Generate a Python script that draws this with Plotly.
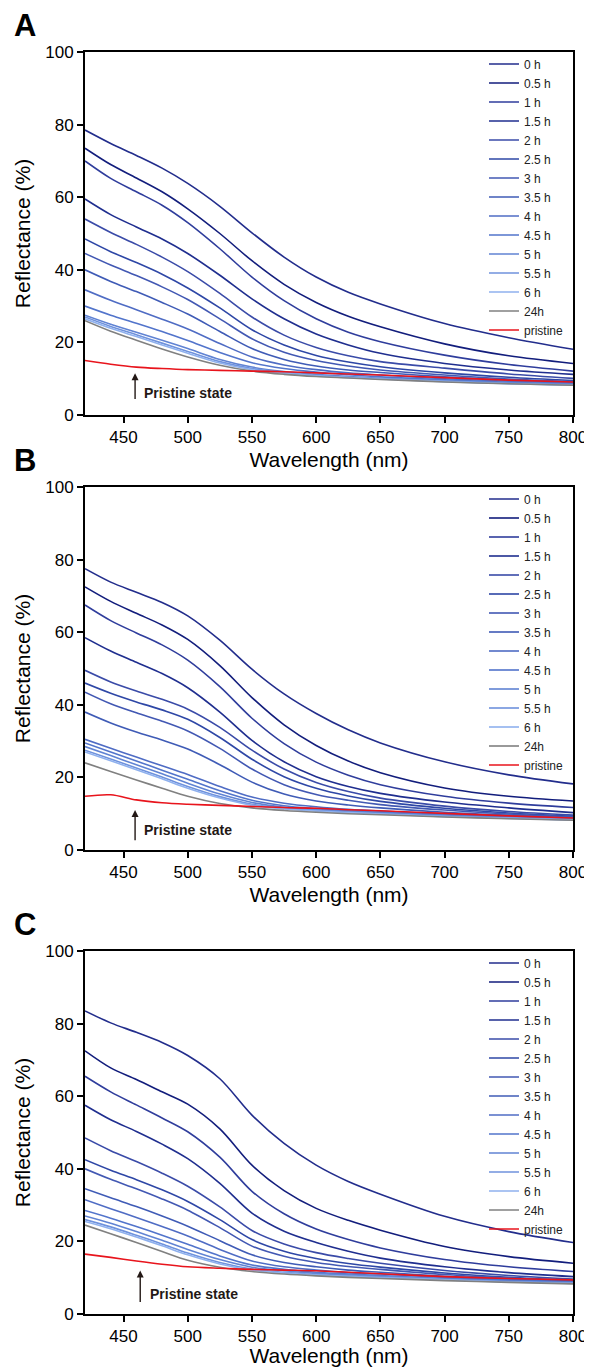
import plotly.graph_objects as go

# ---------------- data ----------------
WAVELENGTH = [420, 440, 460, 480, 500, 525, 550, 575, 600, 625, 650, 700, 750, 800]
LABELS = ["0 h", "0.5 h", "1 h", "1.5 h", "2 h", "2.5 h", "3 h", "3.5 h",
          "4 h", "4.5 h", "5 h", "5.5 h", "6 h", "24h", "pristine"]
COLORS = ["#222d8c", "#121d7c", "#2f3d9c", "#1f2e8f", "#3a4ba8", "#2e47a6",
          "#4258b3", "#3f5bb6", "#4f6cc4", "#5274cb", "#6083d3", "#6f92dd",
          "#8fb1ee", "#808080", "#e8141c"]

PANEL_A = [
    [78.5, 74.8, 71.5, 68.0, 63.8, 57.5, 50.2, 43.5, 38.0, 33.8, 30.6, 25.2, 21.3, 18.1],
    [73.5, 69.0, 65.3, 61.5, 56.8, 50.0, 42.5, 36.0, 31.0, 27.2, 24.3, 19.6, 16.3, 14.2],
    [70.0, 65.2, 61.5, 57.8, 53.0, 45.8, 38.0, 31.5, 26.5, 22.8, 20.2, 16.5, 13.9, 12.1],
    [59.5, 55.2, 51.8, 48.5, 44.5, 38.5, 32.0, 26.5, 22.3, 19.3, 17.0, 14.2, 12.4, 11.2],
    [54.0, 50.3, 47.0, 43.5, 39.5, 33.5, 27.0, 22.0, 18.6, 16.3, 14.7, 12.9, 11.3, 10.1],
    [48.5, 45.0, 42.0, 38.8, 35.0, 29.5, 23.5, 19.3, 16.4, 14.6, 13.3, 11.6, 10.4, 9.5],
    [44.5, 41.3, 38.4, 35.3, 31.8, 26.5, 21.0, 17.3, 15.0, 13.5, 12.4, 11.0, 9.9, 9.2],
    [40.0, 36.8, 34.0, 31.0, 27.8, 23.0, 18.3, 15.3, 13.5, 12.4, 11.7, 10.5, 9.6, 9.0],
    [34.5, 31.6, 29.0, 26.4, 23.7, 19.7, 16.0, 13.8, 12.5, 11.6, 11.0, 10.0, 9.3, 8.8],
    [30.0, 27.5, 25.3, 23.0, 20.5, 17.2, 14.4, 12.8, 11.8, 11.1, 10.5, 9.7, 9.0, 8.6],
    [27.5, 25.0, 22.8, 20.6, 18.3, 15.3, 13.2, 12.0, 11.2, 10.6, 10.1, 9.4, 8.8, 8.4],
    [27.0, 24.4, 22.1, 19.8, 17.5, 14.7, 12.8, 11.7, 10.9, 10.4, 10.0, 9.3, 8.7, 8.3],
    [26.5, 23.9, 21.6, 19.3, 17.0, 14.3, 12.5, 11.5, 10.8, 10.3, 9.9, 9.2, 8.6, 8.2],
    [26.0, 23.1, 20.6, 18.2, 16.0, 13.7, 12.1, 11.2, 10.6, 10.2, 9.8, 9.1, 8.6, 8.2],
    [15.0, 14.0, 13.2, 12.8, 12.5, 12.3, 12.1, 11.9, 11.6, 11.3, 11.0, 10.3, 9.6, 9.1],
]

PANEL_B = [
    [77.5, 73.8, 71.0, 68.2, 64.5, 57.8, 49.8, 43.0, 37.6, 33.1, 29.5, 24.3, 20.7, 18.2],
    [72.5, 68.5, 65.2, 62.0, 58.0, 50.8, 42.0, 34.5, 28.8, 24.5, 21.3, 17.1, 14.8, 13.5],
    [67.5, 63.2, 59.8, 56.5, 52.3, 45.0, 36.3, 29.3, 24.2, 20.6, 18.0, 14.8, 12.9, 11.7],
    [58.5, 54.8, 51.7, 48.6, 44.7, 38.0, 30.2, 24.3, 20.2, 17.5, 15.6, 13.2, 11.6, 10.3],
    [49.5, 46.3, 43.8, 41.5, 38.8, 33.8, 27.5, 22.3, 18.6, 16.1, 14.3, 12.1, 10.6, 9.6],
    [46.0, 43.2, 40.8, 38.6, 36.0, 31.0, 25.0, 20.2, 17.0, 14.9, 13.4, 11.5, 10.2, 9.3],
    [43.5, 40.3, 37.8, 35.5, 32.8, 28.0, 22.3, 18.0, 15.3, 13.7, 12.5, 11.0, 9.9, 9.1],
    [38.0, 35.0, 32.5, 30.3, 27.8, 23.5, 18.7, 15.4, 13.5, 12.4, 11.6, 10.4, 9.6, 8.9],
    [30.5, 28.0, 25.6, 23.2, 20.8, 17.5, 14.6, 12.9, 11.9, 11.2, 10.7, 9.9, 9.2, 8.7],
    [29.5, 27.0, 24.5, 22.0, 19.5, 16.3, 13.7, 12.2, 11.4, 10.8, 10.4, 9.6, 9.0, 8.5],
    [28.5, 26.0, 23.5, 21.0, 18.4, 15.4, 13.1, 11.8, 11.1, 10.6, 10.2, 9.4, 8.9, 8.4],
    [27.5, 25.1, 22.6, 20.1, 17.5, 14.7, 12.6, 11.5, 10.9, 10.4, 10.0, 9.3, 8.8, 8.3],
    [27.0, 24.6, 22.1, 19.6, 17.0, 14.3, 12.3, 11.3, 10.7, 10.3, 9.9, 9.2, 8.7, 8.3],
    [24.0, 21.6, 19.3, 17.0, 14.8, 12.8, 11.6, 10.9, 10.4, 10.0, 9.7, 9.1, 8.6, 8.2],
    [14.8, 15.2, 13.8, 13.0, 12.6, 12.3, 12.0, 11.7, 11.5, 11.1, 10.8, 10.1, 9.4, 8.8],
]

PANEL_C = [
    [83.5, 80.2, 77.6, 74.8, 71.2, 64.8, 54.8, 47.0, 41.0, 36.5, 33.0, 26.9, 22.7, 19.7],
    [72.5, 67.8, 64.6, 61.2, 57.8, 51.0, 41.0, 34.0, 29.1, 25.8, 23.1, 18.6, 15.8, 14.0],
    [65.5, 61.2, 57.6, 54.0, 50.2, 43.2, 33.8, 27.6, 23.4, 20.5, 18.2, 15.0, 13.0, 11.7],
    [57.5, 53.5, 50.3, 46.8, 42.8, 36.0, 27.8, 22.8, 19.7, 17.3, 15.4, 13.0, 11.4, 10.3],
    [48.5, 45.0, 42.0, 38.8, 35.2, 29.5, 23.0, 19.3, 16.9, 15.3, 14.0, 12.0, 10.6, 9.6],
    [42.5, 39.6, 37.0, 34.2, 31.0, 26.0, 20.5, 17.3, 15.3, 13.9, 12.9, 11.3, 10.1, 9.3],
    [40.0, 37.1, 34.5, 31.7, 28.6, 23.8, 18.7, 15.9, 14.2, 13.1, 12.3, 10.9, 9.9, 9.1],
    [34.5, 32.0, 29.6, 27.0, 24.2, 20.2, 16.3, 14.2, 13.0, 12.1, 11.5, 10.4, 9.6, 8.9],
    [31.5, 29.0, 26.6, 24.1, 21.5, 17.8, 14.6, 13.0, 12.1, 11.4, 11.0, 10.1, 9.4, 8.8],
    [28.5, 26.4, 24.1, 21.7, 19.2, 16.0, 13.5, 12.3, 11.5, 11.0, 10.6, 9.8, 9.2, 8.7],
    [27.0, 25.0, 22.7, 20.3, 17.8, 15.0, 12.9, 11.9, 11.2, 10.8, 10.4, 9.6, 9.0, 8.6],
    [26.0, 24.0, 21.7, 19.3, 16.8, 14.2, 12.4, 11.5, 10.9, 10.5, 10.2, 9.5, 8.9, 8.5],
    [25.5, 23.5, 21.2, 18.8, 16.3, 13.8, 12.1, 11.3, 10.7, 10.3, 10.0, 9.4, 8.8, 8.4],
    [24.5, 22.1, 19.7, 17.2, 14.8, 12.9, 11.7, 11.0, 10.5, 10.1, 9.8, 9.2, 8.7, 8.3],
    [16.5, 15.6, 14.6, 13.7, 13.0, 12.6, 12.3, 12.1, 11.9, 11.5, 11.1, 10.3, 9.8, 9.4],
]

PANEL_LETTERS = ["A", "B", "C"]
X_RANGE = [420, 800]
X_TICKS = [450, 500, 550, 600, 650, 700, 750, 800]
Y_RANGE = [0, 100]
Y_TICKS = [0, 20, 40, 60, 80, 100]
ARROW_X = [459, 459, 463]
ARROW_HEAD = [11.5, 11.0, 12.0]
ARROW_TAIL = [4.0, 2.3, 2.9]
TEXT_X = [464, 464, 469]
TEXT_Y = [6.0, 5.5, 5.4]

# ---------------- layout geometry ----------------
# page pixels; the html body adds an 8px margin, so the figure is shifted
PAGE_W, PAGE_H = 592, 1367
OFF = 8
FIG_W, FIG_H = PAGE_W - OFF, PAGE_H - OFF


def fx(px):
    return (px - OFF) / FIG_W


def fy(py):
    return 1 - (py - OFF) / FIG_H


PLOT_LEFT, PLOT_RIGHT = 85, 573
PANEL_TOPS = [52, 487, 951]
PANEL_H = 363
FONT = "Arial, Liberation Sans, sans-serif"

fig = go.Figure()
panels = [PANEL_A, PANEL_B, PANEL_C]

for p, data in enumerate(panels):
    suffix = "" if p == 0 else str(p + 1)
    legend_name = "legend" if p == 0 else "legend%d" % (p + 1)
    for i, ys in enumerate(data):
        fig.add_trace(go.Scatter(
            x=WAVELENGTH, y=ys, mode="lines", name=LABELS[i],
            line=dict(color=COLORS[i], width=1.6, shape="spline", smoothing=0.9),
            xaxis="x" + suffix, yaxis="y" + suffix,
            legend=legend_name, showlegend=True,
        ))

layout = dict(
    width=FIG_W, height=FIG_H,
    margin=dict(l=0, r=0, t=0, b=0),
    paper_bgcolor="white", plot_bgcolor="white",
    font=dict(family=FONT, color="black"),
    showlegend=True,
    template="none",
)

annotations = []
for p in range(3):
    suffix = "" if p == 0 else str(p + 1)
    top = PANEL_TOPS[p]
    bottom = top + PANEL_H
    xa = dict(
        domain=[fx(PLOT_LEFT), fx(PLOT_RIGHT)], range=X_RANGE,
        anchor="y" + suffix, tickvals=X_TICKS, ticks="outside", ticklen=6,
        tickwidth=1.5, tickcolor="black", showline=True, linecolor="black",
        linewidth=1.8, mirror=True, showgrid=False, zeroline=False,
        tickfont=dict(size=17, family=FONT),
        title=dict(text="Wavelength (nm)", font=dict(size=21, family=FONT), standoff=6),
        automargin=False,
    )
    ya = dict(
        domain=[fy(bottom), fy(top)], range=Y_RANGE, anchor="x" + suffix,
        tickvals=Y_TICKS, ticks="outside", ticklen=6, tickwidth=1.5,
        tickcolor="black", showline=True, linecolor="black", linewidth=1.8,
        mirror=True, showgrid=False, zeroline=False,
        tickfont=dict(size=17, family=FONT),
        title=dict(text="Reflectance (%)", font=dict(size=21, family=FONT), standoff=9),
        automargin=False,
    )
    layout["xaxis" + suffix] = xa
    layout["yaxis" + suffix] = ya

    legend_name = "legend" if p == 0 else "legend%d" % (p + 1)
    layout[legend_name] = dict(
        x=fx(484), xanchor="left",
        y=fy(top - 2.5), yanchor="top",
        bgcolor="rgba(0,0,0,0)", borderwidth=0,
        font=dict(size=12, family=FONT, color="#222"),
        tracegroupgap=0,
    )

    annotations.append(dict(
        text="<b>%s</b>" % PANEL_LETTERS[p], xref="paper", yref="paper",
        x=fx(25), y=fy(top - 27), xanchor="center", yanchor="middle",
        showarrow=False, font=dict(size=31, family=FONT, color="black"),
    ))
    annotations.append(dict(
        text="", xref="x" + suffix, yref="y" + suffix,
        axref="x" + suffix, ayref="y" + suffix,
        x=ARROW_X[p], y=ARROW_HEAD[p], ax=ARROW_X[p], ay=ARROW_TAIL[p],
        showarrow=True, arrowhead=2, arrowsize=1, arrowwidth=1.4,
        arrowcolor="#231815", standoff=0, startstandoff=0,
    ))
    annotations.append(dict(
        text="<b>Pristine state</b>", xref="x" + suffix, yref="y" + suffix,
        x=TEXT_X[p], y=TEXT_Y[p], xanchor="left", yanchor="middle",
        showarrow=False, font=dict(size=14, family=FONT, color="#231815"),
    ))

layout["annotations"] = annotations
fig.update_layout(**layout)
fig.write_html("out.html")
